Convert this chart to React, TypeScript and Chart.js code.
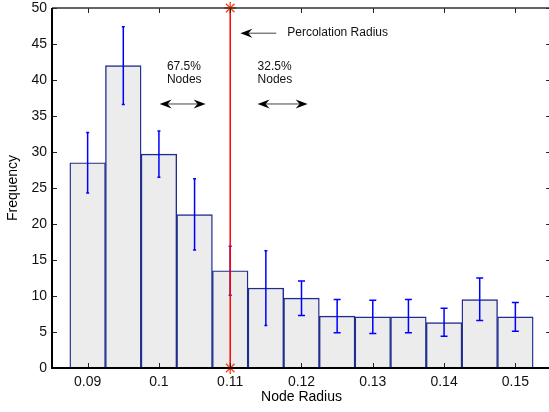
import React, { useEffect, useRef } from "react";
import { Chart, registerables } from "chart.js";

Chart.register(...registerables);

// Histogram of node radii: bin centres, counts and error-bar extents
const binCenters = [0.09, 0.095, 0.1, 0.105, 0.11, 0.115, 0.12, 0.125, 0.13, 0.135, 0.14, 0.145, 0.15];
const frequency = [28.5, 42.0, 29.7, 21.3, 13.5, 11.1, 9.7, 7.2, 7.1, 7.1, 6.3, 9.5, 7.1];
const errUpper = [32.7, 47.4, 32.9, 26.3, 16.9, 16.3, 12.1, 9.5, 9.4, 9.5, 8.3, 12.5, 9.1];
const errLower = [24.3, 36.6, 26.5, 16.4, 10.1, 5.9, 7.3, 4.9, 4.8, 4.9, 4.4, 6.6, 5.1];

const xTicks = [0.09, 0.1, 0.11, 0.12, 0.13, 0.14, 0.15];
const yTicks = [0, 5, 10, 15, 20, 25, 30, 35, 40, 45, 50];

const percolationRadius = 0.11;
const leftShare = "67.5%";
const rightShare = "32.5%";

const FONT = "'Liberation Sans', Arial, Helvetica, sans-serif";

function arrowHead(ctx: CanvasRenderingContext2D, x: number, y: number, dir: number) {
  // concave filled head pointing in direction dir (+1 right, -1 left)
  const len = 12;
  const half = 4.5;
  const notch = 8;
  ctx.beginPath();
  ctx.moveTo(x, y);
  ctx.lineTo(x - dir * len, y - half);
  ctx.lineTo(x - dir * notch, y);
  ctx.lineTo(x - dir * len, y + half);
  ctx.closePath();
  ctx.fill();
}

function arrow(ctx: CanvasRenderingContext2D, x1: number, x2: number, y: number, headLeft: boolean, headRight: boolean) {
  ctx.save();
  ctx.strokeStyle = "#444";
  ctx.fillStyle = "#000";
  ctx.lineWidth = 1;
  ctx.beginPath();
  ctx.moveTo(x1 + (headLeft ? 6 : 0), y);
  ctx.lineTo(x2 - (headRight ? 6 : 0), y);
  ctx.stroke();
  if (headLeft) arrowHead(ctx, x1, y, -1);
  if (headRight) arrowHead(ctx, x2, y, 1);
  ctx.restore();
}

const errorBarPlugin = {
  id: "errorBars",
  afterDatasetDraw(chart: any, args: any) {
    if (args.index !== 0) return;
    const { ctx, scales } = chart;
    const xs = scales.x;
    const ys = scales.y;
    ctx.save();
    ctx.strokeStyle = "#0000ff";
    ctx.lineWidth = 1.5;
    binCenters.forEach((c, i) => {
      const x = xs.getPixelForValue(c);
      const yt = ys.getPixelForValue(errUpper[i]);
      const yb = ys.getPixelForValue(errLower[i]);
      const cap = i < 6 ? 1.5 : 3.5;
      ctx.beginPath();
      ctx.moveTo(x, yt);
      ctx.lineTo(x, yb);
      ctx.moveTo(x - cap, yt);
      ctx.lineTo(x + cap, yt);
      ctx.moveTo(x - cap, yb);
      ctx.lineTo(x + cap, yb);
      ctx.stroke();
    });
    ctx.restore();
  },
};

const framePlugin = {
  id: "frameAndNotes",
  afterDraw(chart: any) {
    const { ctx, chartArea, scales } = chart;
    const { left, right, top, bottom } = chartArea;
    const xs = scales.x;
    const ys = scales.y;
    ctx.save();

    // inward tick marks
    ctx.strokeStyle = "#222";
    ctx.lineWidth = 1;
    ctx.beginPath();
    yTicks.forEach((v) => {
      const y = Math.round(ys.getPixelForValue(v)) + 0.5;
      ctx.moveTo(left, y);
      ctx.lineTo(left + 5, y);
      ctx.moveTo(right, y);
      ctx.lineTo(right - 5, y);
    });
    xTicks.forEach((v) => {
      const x = Math.round(xs.getPixelForValue(v)) + 0.5;
      ctx.moveTo(x, top);
      ctx.lineTo(x, top + 5);
      ctx.moveTo(x, bottom);
      ctx.lineTo(x, bottom - 5);
    });
    ctx.stroke();

    // box
    ctx.strokeStyle = "#333";
    ctx.lineWidth = 1.5;
    ctx.beginPath();
    ctx.moveTo(left, top);
    ctx.lineTo(right, top);
    ctx.lineTo(right, bottom);
    ctx.stroke();
    ctx.strokeStyle = "#000";
    ctx.lineWidth = 2;
    ctx.beginPath();
    ctx.moveTo(left, top);
    ctx.lineTo(left, bottom);
    ctx.lineTo(right, bottom);
    ctx.stroke();

    // axis titles
    ctx.fillStyle = "#000";
    ctx.font = `14px ${FONT}`;
    ctx.textAlign = "center";
    ctx.textBaseline = "middle";
    ctx.fillText("Node Radius", xs.getPixelForValue(0.12), 397);
    ctx.save();
    ctx.translate(13, ys.getPixelForValue(25));
    ctx.rotate(-Math.PI / 2);
    ctx.fillText("Frequency", 0, 0);
    ctx.restore();

    // annotations
    ctx.font = `12px ${FONT}`;
    ctx.fillStyle = "#111";
    ctx.textAlign = "left";
    const px = (v: number) => xs.getPixelForValue(v);
    const py = (v: number) => ys.getPixelForValue(v);
    ctx.fillText("Percolation Radius", px(0.118), py(46.6));
    ctx.fillText(leftShare, px(0.10112), py(41.8));
    ctx.fillText("Nodes", px(0.10112), py(40.1));
    ctx.fillText(rightShare, px(0.11384), py(41.8));
    ctx.fillText("Nodes", px(0.11384), py(40.1));

    arrow(ctx, px(0.11142), px(0.11646), py(46.5), true, false);
    arrow(ctx, px(0.1001), px(0.10655), py(36.67), true, true);
    arrow(ctx, px(0.11384), px(0.12086), py(36.67), true, true);

    ctx.restore();
  },
};

export default function App() {
  const canvasRef = useRef<HTMLCanvasElement | null>(null);

  useEffect(() => {
    const canvas = canvasRef.current;
    if (!canvas) return;
    Chart.defaults.font.family = FONT;

    const chart = new Chart(canvas, {
      type: "bar",
      data: {
        datasets: [
          {
            type: "bar",
            order: 2,
            data: binCenters.map((x, i) => ({ x, y: frequency[i] })),
            backgroundColor: "#ececec",
            borderColor: "#1f2d8f",
            borderWidth: 1.4,
            barPercentage: 1,
            categoryPercentage: 1,
            borderSkipped: "bottom",
          } as any,
          {
            type: "line",
            order: 1,
            data: [
              { x: percolationRadius, y: 0 },
              { x: percolationRadius, y: 50 },
            ],
            borderColor: "#ff0000",
            borderWidth: 1.5,
            pointStyle: "star",
            pointRadius: 6,
            pointBorderColor: "#ff3b10",
            pointBorderWidth: 1.3,
            pointBackgroundColor: "#ff3b10",
            clip: false,
          } as any,
        ],
      },
      options: {
        responsive: false,
        animation: false,
        events: [],
        layout: { autoPadding: false, padding: { top: 8, right: 1, left: 0, bottom: 0 } },
        plugins: { legend: { display: false }, tooltip: { enabled: false } },
        scales: {
          x: {
            type: "linear",
            min: 0.085,
            max: 0.155,
            offset: false,
            grid: { display: false, drawTicks: false },
            border: { display: false },
            afterBuildTicks: (scale: any) => {
              scale.ticks = xTicks.map((value) => ({ value }));
            },
            afterFit: (scale: any) => {
              scale.height = 44;
              scale.paddingLeft = 0;
              scale.paddingRight = 0;
            },
            ticks: {
              autoSkip: false,
              maxRotation: 0,
              padding: 6,
              color: "#111",
              font: { size: 14, family: FONT },
              callback: (v: any) => String(Number(Number(v).toFixed(3))),
            },
          },
          y: {
            type: "linear",
            min: 0,
            max: 50,
            grid: { display: false, drawTicks: false },
            border: { display: false },
            afterBuildTicks: (scale: any) => {
              scale.ticks = yTicks.map((value) => ({ value }));
            },
            afterFit: (scale: any) => {
              scale.width = 52;
              scale.paddingTop = 0;
              scale.paddingBottom = 0;
            },
            ticks: {
              padding: 5,
              color: "#111",
              font: { size: 14, family: FONT },
            },
          },
        },
      },
      plugins: [errorBarPlugin, framePlugin],
    });

    return () => chart.destroy();
  }, []);

  return (
    <div
      style={{
        position: "fixed",
        left: 0,
        top: 0,
        width: 549,
        height: 412,
        overflow: "hidden",
        background: "#fff",
      }}
    >
      <canvas ref={canvasRef} width={552} height={412} style={{ display: "block" }} />
    </div>
  );
}
